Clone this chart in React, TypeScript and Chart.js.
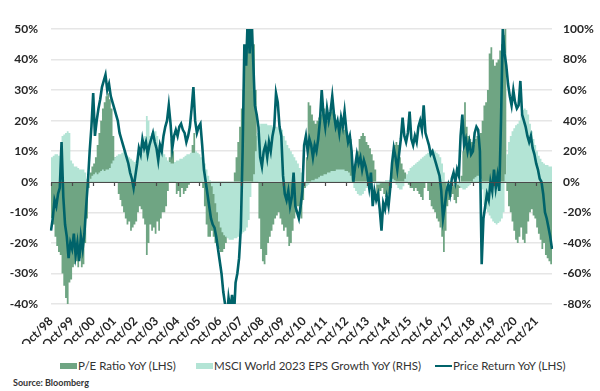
import React, { useEffect, useRef } from 'react';
import { Chart, registerables } from 'chart.js';

Chart.register(...registerables);

// Monthly observations starting October 1998
const START_YEAR = 1998;
const START_MONTH = 9; // 0-based: October

const TICK_LABELS = [
  'Oct/98', 'Oct/99', 'Oct/00', 'Oct/01', 'Oct/02', 'Oct/03', 'Oct/04', 'Oct/05',
  'Oct/06', 'Oct/07', 'Oct/08', 'Oct/09', 'Oct/10', 'Oct/11', 'Oct/12', 'Oct/13',
  'Oct/14', 'Oct/15', 'Oct/16', 'Oct/17', 'Oct/18', 'Oct/19', 'Oct/20', 'Oct/21',
];

const LEFT_TICKS = [-40, -30, -20, -10, 0, 10, 20, 30, 40, 50];
const RIGHT_TICKS = [-80, -60, -40, -20, 0, 20, 40, 60, 80, 100];

// P/E Ratio YoY (LHS, %)
const PE_RATIO_YOY = [
  -12, -14, -18, -21, -23, -24, -30, -34, -38, -40, -33, -32,
  -28, -27, -26, -28, -25, -28, -27, -20, -12, -2, 3, 5,
  6, 8, 12, 16, 20, 24, 26, 28, 29, 27, 24, 15,
  8, 2, -4, -6, -8, -10, -12, -14, -13, -16, -15, -14,
  -13, -10, -8, -9, -12, -14, -24, -20, -14, -16, -15, -17,
  -13, -16, -12, -10, -10, -8, -3, 8, 14, 10, 2, -4,
  -3, -5, -2, -4, -3, -2, -1, 4, 12, 16, 8, 4,
  3, 2, -2, -8, -14, -18, -18, -16, -18, -20, -21, -22,
  -23, -23, -22, -20, -18, -16, -12, -4, 3, 8, 13, 18,
  24, 30, 40, 52, 55, 55, 52, 45, 30, 15, -12, -22,
  -26, -27, -24, -20, -18, -16, -14, -12, -11, -10, -12, -14,
  -16, -15, -18, -21, -20, -16, -12, -10, -8, -9, -12, -6,
  -2, 8, 26, 25, 22, 20, 19, 20, 21, 22, 25, 24,
  22, 20, 21, 23, 24, 22, 20, 18, 19, 18, 17, 18,
  16, 15, 14, 6, 2, 6, 10, 14, 15, 16, 15, 13,
  12, 11, 9, 7, 4, -4, -6, -3, -2, -4, -5, -6,
  -4, -2, 8, 12, 13, 12, 8, 6, 4, 3, 1, -1,
  -2, -2, -3, -2, -3, -4, -5, -6, -2, 0, -3, -6,
  -8, -9, -10, -12, -13, -15, -18, -23, -16, -8, -6, -5,
  -4, -6, -7, -5, -2, 2, 10, 26, 18, 15, 14, 13,
  12, 14, 15, 14, 16, 20, 25, 26, 30, 42, 44, 40,
  38, 39, 40, 43, 45, 48, 50, -3, -8, -10, -13, -16,
  -19, -20, -18, -15, -19, -20, -17, -13, -10, -9, -11, -12,
  -15, -17, -19, -22, -20, -24, -25, -26, -27, -26,
];

// MSCI World 2023 EPS Growth YoY (RHS, %)
const EPS_GROWTH_YOY = [
  16, 17, 18, 18, 17, 20, 30, 31, 32, 33, 32, 14,
  12, 10, 10, 9, 8, 8, 8, 6, 2, 0, 2, 4,
  5, 6, 5, 6, 7, 8, 7, 8, 8, 9, 12, 14,
  16, 17, 18, 18, 19, 20, 18, 17, 16, 15, 14, 13,
  14, 16, 18, 18, 20, 30, 43, 40, 30, 32, 33, 33,
  30, 24, 22, 20, 18, 16, 14, 13, 12, 12, 13, 14,
  14, 15, 15, 16, 17, 18, 18, 19, 19, 19, 20, 19,
  18, 16, 14, 12, 8, 4, 1, -3, -8, -14, -20, -26,
  -30, -33, -35, -36, -37, -38, -38, -38, -37, -37, -36, -35,
  -34, -33, -32, -30, -25, -10, 0, 5, 20, 32, 36, 38,
  38, 38, 38, 37, 37, 37, 36, 36, 36, 35, 35, 34,
  30, 27, 24, 22, 20, 18, 16, 14, 12, 9, 6, 3,
  0, -3, -2, 0, 1, 1, 2, 2, 3, 4, 4, 5,
  5, 6, 6, 7, 7, 7, 8, 8, 8, 8, 8, 7,
  7, 6, 4, 0, -4, -6, -8, -9, -9, -8, -6, -4,
  -2, -1, 0, 0, -1, -2, -2, -1, 0, 0, 1, 1,
  1, 2, 2, 1, -2, -4, -5, -5, -3, 2, 5, 7,
  9, 10, 11, 12, 13, 14, 15, 16, 17, 18, 19, 20,
  21, 21, 20, 19, 18, 16, 12, 6, 0, -3, -4, -4,
  -3, -2, -1, -2, -3, -4, -5, -5, -4, -3, -2, 0,
  2, 3, 4, 4, 2, -5, -15, -18, -20, -22, -24, -26,
  -27, -28, -27, -26, -24, -20, 5, 18, 26, 30, 33, 35,
  37, 38, 40, 44, 47, 48, 47, 44, 38, 33, 28, 24,
  20, 17, 15, 13, 12, 11, 11, 10, 10, 9,
];

// Price Return YoY (LHS, %)
const PRICE_RETURN_YOY = [
  -16, -12, -6, -8, -4, -2, 13, -5, -14, -18, -25, -20,
  -22, -17, -24, -20, -26, -18, -22, -17, -8, 0, 10, 18,
  29, 15, 20, 24, 27, 31, 33, 35, 30, 32, 28, 26,
  24, 22, 20, 16, 14, 12, 10, 8, 6, 3, 1, -2,
  2, 6, 11, 9, 14, 11, 13, 9, 12, 14, 16, 13,
  11, 7, 12, 10, 15, 18, 20, 25, 19, 11, 15, 17,
  15, 18, 19, 17, 16, 13, 15, 18, 24, 31, 20, 16,
  18, 19, 12, 4, 0, -4, -8, -12, -14, -15, -18, -22,
  -26, -30, -36, -40, -45, -38, -42, -37, -45, -33, -30, -25,
  -15, 10, 45, 38, 55, 42, 55, 40, 25, 22, 18, 8,
  5, 10, 12, 8, 13, 10, 15, 18, 29, 26, 18, 15,
  2, -4, -6, -3, -8, -5, 3, -8, -10, -12, -8, -3,
  12, 15, 10, 14, 12, 8, 12, 10, 14, 20, 30, 22,
  18, 24, 20, 23, 28, 22, 18, 20, 16, 21, 18, 23,
  17, 13, 15, 10, 0, 5, 9, 6, 8, 4, 7, 5,
  2, -2, 3, -8, -3, -6, -4, -9, -16, -7, -9, -5,
  -8, -2, 6, 11, 8, 4, 9, 14, 21, 15, 13, 16,
  23, 14, 12, 15, 13, 18, 20, 17, 25, 16, 14, 12,
  9, 10, 8, 6, 4, 2, -3, -12, -8, -3, -1, -4,
  1, 3, 0, 4, 2, 15, 22, 12, 14, 10, 13, 9,
  10, 16, 18, 17, 10, -27, -12, -8, -4, -6, 0, -3,
  4, -2, 2, -3, 20, 50, 42, 38, 32, 28, 25, 30,
  26, 24, 25, 33, 22, 20, 18, 15, 13, 15, 11, 9,
  6, 4, 1, 0, -4, -10, -12, -15, -18, -22,
];

const MONTH_NAMES = ['Jan', 'Feb', 'Mar', 'Apr', 'May', 'Jun', 'Jul', 'Aug', 'Sep', 'Oct', 'Nov', 'Dec'];
const CATEGORIES = PRICE_RETURN_YOY.map((_, i) => {
  const m = START_MONTH + i;
  const y = START_YEAR + Math.floor(m / 12);
  return `${MONTH_NAMES[m % 12]}/${String(y).slice(2)}`;
});

const COLOR_PE = '#6fa583';
const COLOR_EPS = '#b3e4d5';
const COLOR_PRICE = '#00636a';
const FONT = 'Lato, "Open Sans", "DejaVu Sans", sans-serif';
const TEXT = '#262626';

const zeroLinePlugin = {
  id: 'zeroLine',
  afterDatasetsDraw(chart: any) {
    const { ctx, chartArea, scales } = chart;
    const y0 = Math.round(scales.y.getPixelForValue(0)) + 0.5;
    ctx.save();
    ctx.strokeStyle = '#4a4a4a';
    ctx.lineWidth = 1.2;
    ctx.beginPath();
    ctx.moveTo(chartArea.left, y0);
    ctx.lineTo(chartArea.right, y0);
    CATEGORIES.forEach((c, i) => {
      if (TICK_LABELS.includes(c)) {
        const x = Math.round(scales.x.getPixelForValue(i)) + 0.5;
        ctx.moveTo(x, y0);
        ctx.lineTo(x, y0 + 3.5);
      }
    });
    ctx.stroke();
    ctx.restore();
  },
};

export default function App() {
  const ref = useRef<HTMLCanvasElement | null>(null);

  useEffect(() => {
    document.body.style.margin = '0';
    if (!ref.current) return;
    const chart = new Chart(ref.current, {
      type: 'line',
      data: {
        labels: CATEGORIES,
        datasets: [
          {
            label: 'Price Return YoY (LHS)',
            data: PRICE_RETURN_YOY,
            yAxisID: 'y',
            borderColor: COLOR_PRICE,
            backgroundColor: COLOR_PRICE,
            borderWidth: 2.6,
            pointRadius: 0,
            tension: 0,
            fill: false,
          },
          {
            label: 'MSCI World 2023 EPS Growth YoY (RHS)',
            data: EPS_GROWTH_YOY,
            yAxisID: 'y1',
            borderWidth: 0,
            borderColor: COLOR_EPS,
            backgroundColor: COLOR_EPS,
            pointRadius: 0,
            stepped: true,
            fill: 'origin',
          },
          {
            label: 'P/E Ratio YoY (LHS)',
            data: PE_RATIO_YOY,
            yAxisID: 'y',
            borderWidth: 0,
            borderColor: COLOR_PE,
            backgroundColor: COLOR_PE,
            pointRadius: 0,
            stepped: true,
            fill: 'origin',
          },
        ],
      },
      options: {
        responsive: false,
        animation: false,
        maintainAspectRatio: false,
        layout: { padding: { top: 29, left: 0, right: 0, bottom: 0 } },
        plugins: {
          legend: { display: false },
          tooltip: { enabled: false },
        },
        scales: {
          x: {
            type: 'category',
            grid: { display: false },
            border: { display: false },
            afterFit: (s: any) => { s.height = 40; },
            ticks: {
              autoSkip: false,
              minRotation: 45,
              maxRotation: 45,
              padding: 2,
              color: TEXT,
              font: { family: FONT, size: 12, weight: 'bold' },
              callback: (_v: any, i: number) => (TICK_LABELS.includes(CATEGORIES[i]) ? CATEGORIES[i] : null),
            },
          },
          y: {
            position: 'left',
            min: LEFT_TICKS[0],
            max: LEFT_TICKS[LEFT_TICKS.length - 1],
            afterFit: (s: any) => { s.width = 51; },
            afterBuildTicks: (s: any) => { s.ticks = LEFT_TICKS.map((v) => ({ value: v })); },
            border: { display: false },
            grid: {
              drawTicks: false,
              lineWidth: 1.6,
              color: (c: any) => (c.tick && c.tick.value === 0 ? 'rgba(0,0,0,0)' : '#e6e6e6'),
            },
            ticks: {
              padding: 13,
              color: TEXT,
              font: { family: FONT, size: 12, weight: 'bold' },
              callback: (v: any) => `${v}%`,
            },
          },
          y1: {
            position: 'right',
            min: RIGHT_TICKS[0],
            max: RIGHT_TICKS[RIGHT_TICKS.length - 1],
            afterFit: (s: any) => { s.width = 48; },
            afterBuildTicks: (s: any) => { s.ticks = RIGHT_TICKS.map((v) => ({ value: v })); },
            border: { display: false },
            grid: { display: false, drawTicks: false },
            ticks: {
              padding: 11,
              color: TEXT,
              font: { family: FONT, size: 12, weight: 'bold' },
              callback: (v: any) => `${v}%`,
            },
          },
        },
      },
      plugins: [zeroLinePlugin],
    } as any);
    return () => chart.destroy();
  }, []);

  const legendText: React.CSSProperties = {
    fontFamily: FONT,
    fontSize: 11.5,
    color: '#333',
    whiteSpace: 'nowrap',
    lineHeight: '14px',
  };
  const item = (left: number): React.CSSProperties => ({
    position: 'absolute',
    left,
    top: 359,
    height: 14,
    display: 'flex',
    alignItems: 'center',
  });

  return (
    <div style={{ position: 'relative', width: 600, height: 391, background: '#fff', overflow: 'hidden' }}>
      <canvas ref={ref} width={600} height={344} style={{ position: 'absolute', left: 0, top: 0 }} />
      <div style={item(60)}>
        <span style={{ display: 'inline-block', width: 17, height: 6, background: COLOR_PE, marginRight: 1 }} />
        <span style={legendText}>P/E Ratio YoY (LHS)</span>
      </div>
      <div style={item(196)}>
        <span style={{ display: 'inline-block', width: 17, height: 6, background: COLOR_EPS, marginRight: 1 }} />
        <span style={legendText}>MSCI World 2023 EPS Growth YoY (RHS)</span>
      </div>
      <div style={item(435)}>
        <span style={{ display: 'inline-block', width: 17, height: 2.5, background: COLOR_PRICE, marginRight: 1 }} />
        <span style={legendText}>Price Return YoY (LHS)</span>
      </div>
      <div style={{ position: 'absolute', left: 13, top: 377, fontFamily: FONT, fontSize: 9, fontWeight: 'bold', color: '#333', whiteSpace: 'nowrap' }}>
        Source: Bloomberg
      </div>
    </div>
  );
}
